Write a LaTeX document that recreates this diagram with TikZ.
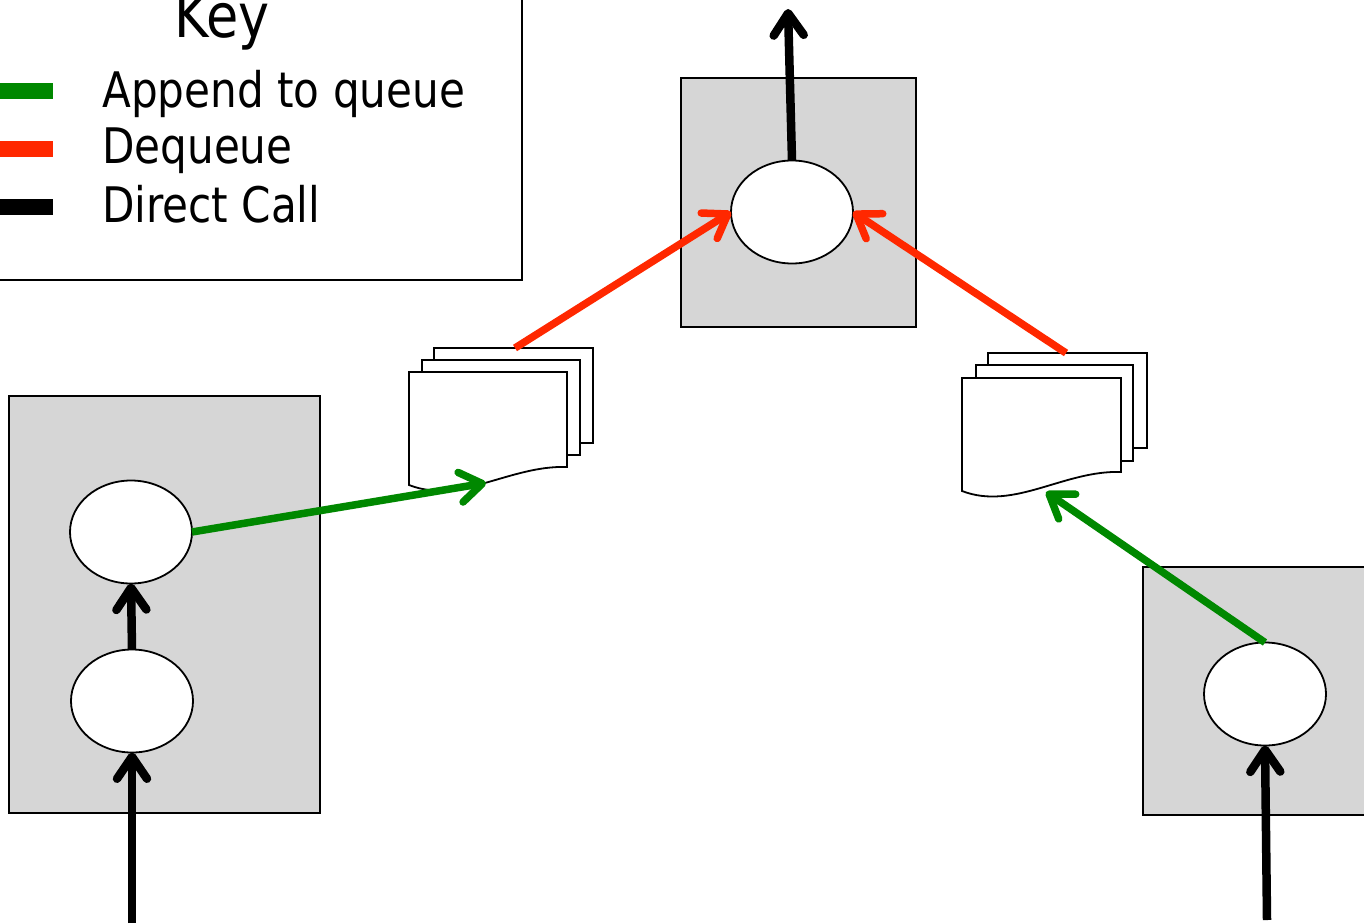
\documentclass[tikz,border=0pt]{standalone}
\usepackage{fontspec}
\setmainfont[FakeStretch=0.86]{DejaVu Sans}
\usetikzlibrary{shapes.geometric,arrows.meta}
\definecolor{qgreen}{RGB}{0,136,0}
\definecolor{qred}{RGB}{255,40,0}
\definecolor{boxgray}{RGB}{214,214,214}
\begin{document}
\begin{tikzpicture}[x=1pt,y=-1pt,
  procbox/.style={draw=black,line width=1.8pt,fill=boxgray,rectangle,inner sep=0pt,outer sep=0pt},
  proc/.style={draw=black,line width=1.8pt,fill=white,ellipse,inner sep=0pt,outer sep=0pt,minimum width=122pt,minimum height=103pt},
  page/.style={draw=black,line width=1.8pt,fill=white,line join=miter},
  tipstyle/.style={-{Straight Barb[length=22pt,width=30pt,round]}},
  call/.style={line width=8.5pt,draw=black,tipstyle},
  enq/.style={line width=7.5pt,draw=qgreen,tipstyle},
  deq/.style={line width=7.5pt,draw=qred,tipstyle},
  legline/.style={line width=16pt},
  legtext/.style={anchor=base west,inner sep=0pt,font=\fontsize{49}{58}\selectfont}
]
\useasboundingbox (0,0) rectangle (1364,923);

% key
\node[draw=black,line width=1.8pt,fill=white,rectangle,minimum width=540pt,minimum height=300pt,inner sep=0pt] (key) at (252,130) {};
\node[anchor=base,inner sep=0pt,font=\fontsize{61}{70}\selectfont] (keytitle) at (222,38) {Key};
\draw[legline,qgreen] (-5,91) -- (53,91);
\draw[legline,qred] (-5,149) -- (53,149);
\draw[legline,black] (-5,207) -- (53,207);
\node[legtext] (l1) at (102,108) {Append to queue};
\node[legtext] (l2) at (102,163) {Dequeue};
\node[legtext] (l3) at (102,222) {Direct Call};

% process boxes
\node[procbox,minimum width=235pt,minimum height=249pt] (topbox) at (798.5,202.5) {};
\node[procbox,minimum width=311pt,minimum height=417pt] (leftbox) at (164.5,604.5) {};
\node[procbox,minimum width=250pt,minimum height=248pt] (rightbox) at (1268,691) {};

% ellipses
\node[proc] (top) at (792,212) {};
\node[proc] (lup) at (131,532) {};
\node[proc] (lmid) at (132,701) {};
\node[proc] (rproc) at (1265,694) {};

% left queue
\draw[page] (434,348) rectangle (593,443);
\draw[page] (422,360) rectangle (580,455);
\draw[page] (409,372) -- (567,372) -- (567,467) .. controls (510,465) and (460,505) .. (409,485) -- cycle;
% right queue
\draw[page] (988,353) rectangle (1147,448);
\draw[page] (976,365) rectangle (1133,461);
\draw[page] (962,378) -- (1121,378) -- (1121,472) .. controls (1064,470) and (1014,511) .. (962,491) -- cycle;

\coordinate (qLtop) at (515,348);
\coordinate (qLbot) at (486,483);
\coordinate (qRtop) at (1066,353);
\coordinate (qRbot) at (1046,492);
\coordinate (outTop) at (788,9);
\coordinate (inL) at (132,923);
\coordinate (inR) at (1267,920);

% connectors
\draw[call] (top.north) -- (outTop);
\draw[call] (lmid.north) -- (lup.south);
\draw[call] (inL) -- (lmid.south);
\draw[call] (inR) -- (rproc.south);
\draw[enq] (lup.east) -- (qLbot);
\draw[enq] (rproc.north) -- (qRbot);
\draw[deq] (qLtop) -- (top.west);
\draw[deq] (qRtop) -- (top.east);
\end{tikzpicture}
\end{document}
